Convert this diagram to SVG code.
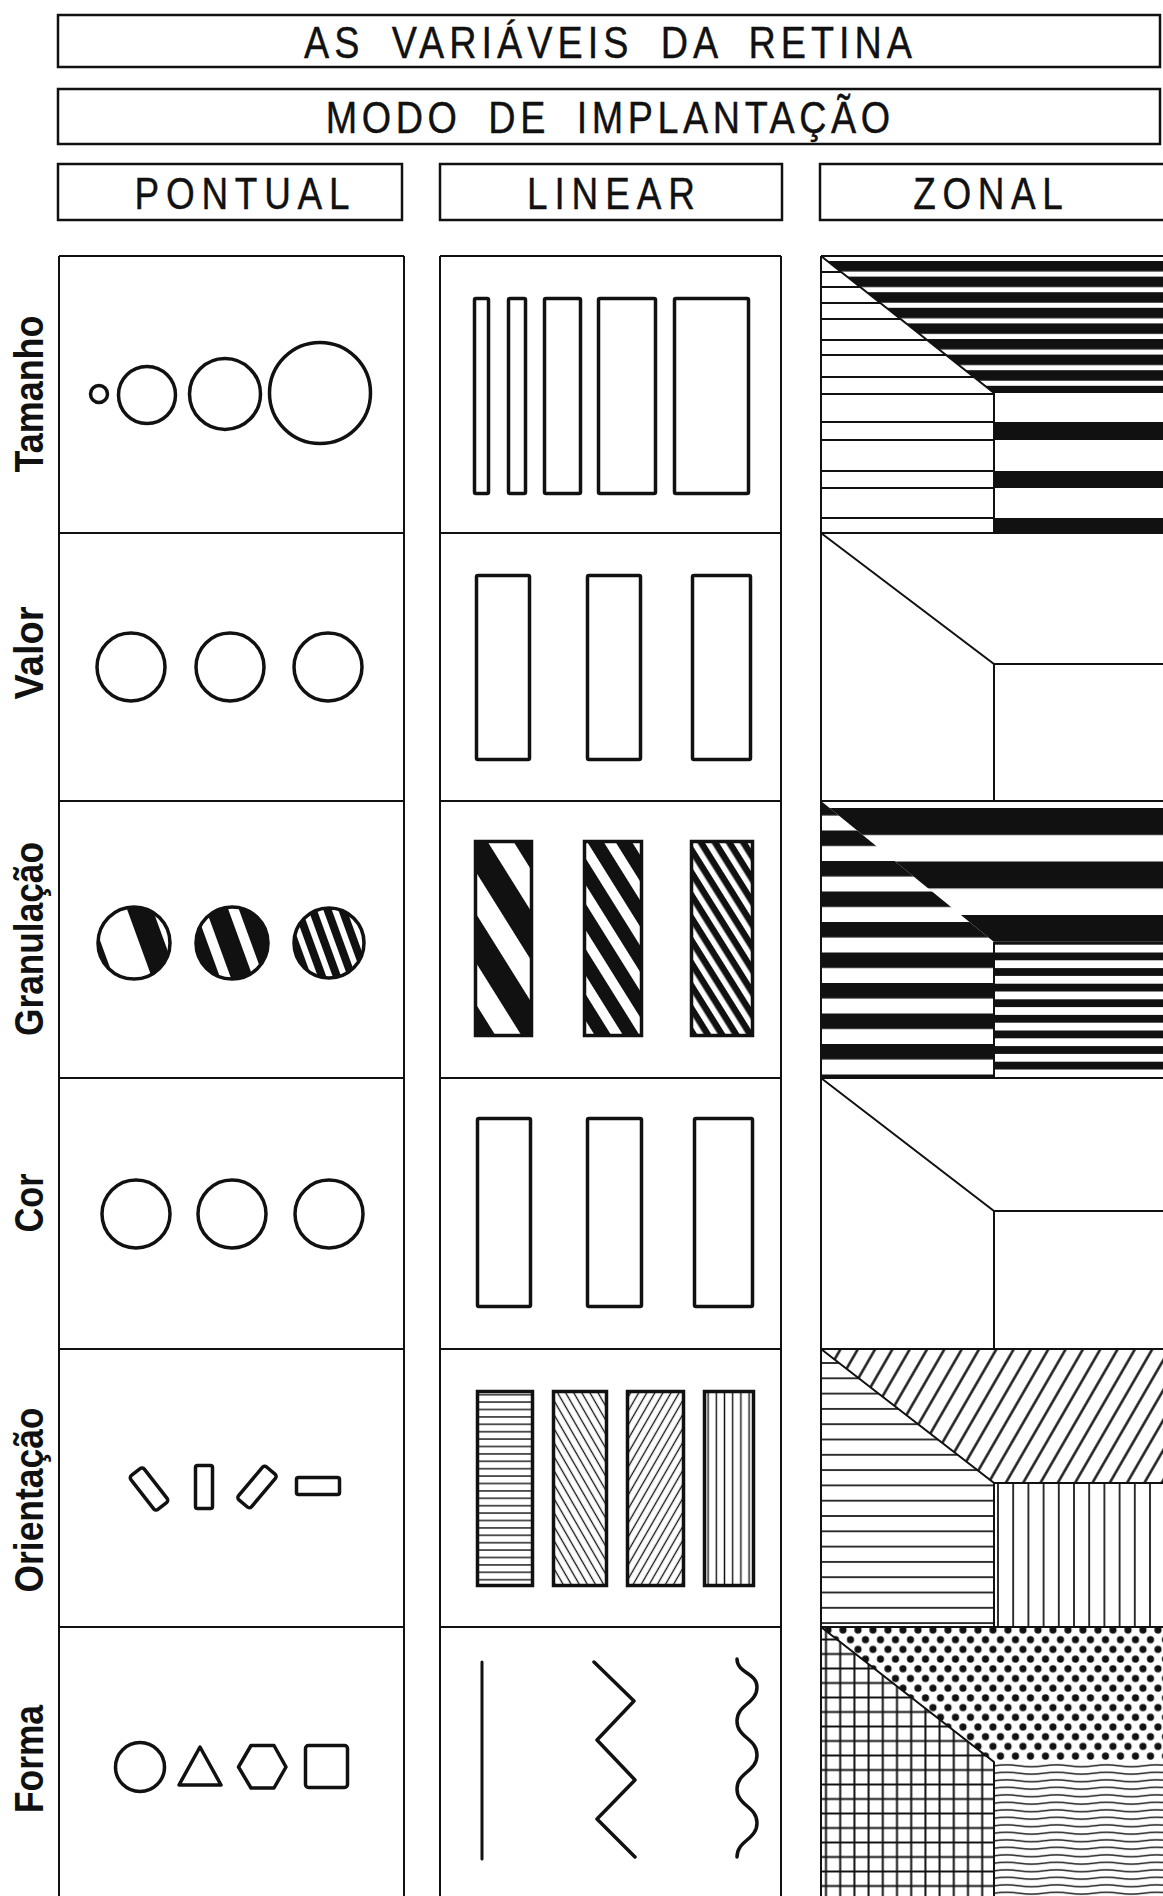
<svg xmlns="http://www.w3.org/2000/svg" width="1163" height="1896" viewBox="0 0 1163 1896">
<style>
.box{fill:none;stroke:#111;stroke-width:2.5}
.cl{fill:none;stroke:#111;stroke-width:2}
.ht{font-family:"Liberation Sans",Arial,sans-serif;fill:#111;stroke:#111;stroke-width:0.4;text-anchor:middle;word-spacing:14px}
.lbl{font-family:"Liberation Sans",Arial,sans-serif;font-weight:bold;font-size:40px;fill:#111;text-anchor:middle}
.sym{fill:none;stroke:#111;stroke-width:3.5;stroke-linejoin:round}
.symf{stroke:#111;stroke-width:3.5}
.thin{fill:none;stroke:#111;stroke-width:2}
</style>
<defs>
<pattern id="gc1" patternUnits="userSpaceOnUse" x="-31" y="0" width="60" height="10" patternTransform="translate(134,943) rotate(-20)"><rect width="60" height="10" fill="#111"/><rect width="36" height="10" fill="#fff"/></pattern>
<pattern id="gc2" patternUnits="userSpaceOnUse" x="-23" y="0" width="31" height="10" patternTransform="translate(232,943) rotate(-20)"><rect width="31" height="10" fill="#111"/><rect width="10" height="10" fill="#fff"/></pattern>
<pattern id="gc3" patternUnits="userSpaceOnUse" x="0" y="0" width="14" height="10" patternTransform="translate(329,943) rotate(-20)"><rect width="14" height="10" fill="#111"/><rect width="6" height="10" fill="#fff"/></pattern>
<pattern id="gl1" patternUnits="userSpaceOnUse" x="-10" y="0" width="48" height="10" patternTransform="translate(503,938) rotate(-32)"><rect width="48" height="10" fill="#111"/><rect width="22" height="10" fill="#fff"/></pattern>
<pattern id="gl2" patternUnits="userSpaceOnUse" x="-5" y="0" width="24" height="10" patternTransform="translate(613,938) rotate(-32)"><rect width="24" height="10" fill="#111"/><rect width="10" height="10" fill="#fff"/></pattern>
<pattern id="gl3" patternUnits="userSpaceOnUse" x="0" y="0" width="12" height="10" patternTransform="translate(722,938) rotate(-32)"><rect width="12" height="10" fill="#111"/><rect width="5.5" height="10" fill="#fff"/></pattern>
<pattern id="oh" patternUnits="userSpaceOnUse" x="0" y="1391" width="10" height="7.4"><rect width="10" height="7.4" fill="#fff"/><path d="M0,3.7H10" stroke="#111" stroke-width="1.4"/></pattern>
<pattern id="od1" patternUnits="userSpaceOnUse" x="0" y="0" width="7" height="10" patternTransform="rotate(-30)"><rect width="7" height="10" fill="#fff"/><path d="M3.5,0V10" stroke="#111" stroke-width="1.3"/></pattern>
<pattern id="od2" patternUnits="userSpaceOnUse" x="0" y="0" width="7" height="10" patternTransform="rotate(30)"><rect width="7" height="10" fill="#fff"/><path d="M3.5,0V10" stroke="#111" stroke-width="1.3"/></pattern>
<pattern id="ov" patternUnits="userSpaceOnUse" x="704" y="0" width="8.2" height="10"><rect width="8.2" height="10" fill="#fff"/><path d="M4.1,0V10" stroke="#111" stroke-width="1.4"/></pattern>
<pattern id="tb" patternUnits="userSpaceOnUse" x="0" y="261" width="10" height="15.6"><rect width="10" height="10.5" fill="#111"/></pattern>
<pattern id="gz1" patternUnits="userSpaceOnUse" x="0" y="808" width="10" height="53.5"><rect width="10" height="27" fill="#111"/></pattern>
<pattern id="gz2" patternUnits="userSpaceOnUse" x="0" y="800" width="10" height="30.5"><rect width="10" height="15.5" fill="#111"/></pattern>
<pattern id="gz3" patternUnits="userSpaceOnUse" x="0" y="944.7" width="10" height="15.6"><rect y="7.8" width="10" height="7.8" fill="#111"/></pattern>
<pattern id="ozd" patternUnits="userSpaceOnUse" x="0" y="0" width="15" height="20" patternTransform="rotate(30)"><path d="M7.5,0V20" stroke="#111" stroke-width="2.4"/></pattern>
<pattern id="ozh" patternUnits="userSpaceOnUse" x="0" y="1355.35" width="20" height="15.3"><path d="M0,7.65H20" stroke="#111" stroke-width="1.7"/></pattern>
<pattern id="ozv" patternUnits="userSpaceOnUse" x="990.4" y="0" width="15.2" height="20"><path d="M7.6,0V20" stroke="#111" stroke-width="1.7"/></pattern>
<pattern id="fd" patternUnits="userSpaceOnUse" x="884.25" y="1625.15" width="15" height="19.4"><circle cx="3.75" cy="4.85" r="3.6" fill="#111"/><circle cx="11.25" cy="14.55" r="3.6" fill="#111"/></pattern>
<pattern id="fg" patternUnits="userSpaceOnUse" x="818.9" y="1675.75" width="14.2" height="14.5"><path d="M7.1,0V14.5M0,7.25H14.2" stroke="#111" stroke-width="2"/></pattern>
<pattern id="fw" patternUnits="userSpaceOnUse" x="994" y="1762" width="50" height="7.5"><path d="M0,3.75Q12.5,1.8 25,3.75T50,3.75" fill="none" stroke="#111" stroke-width="1.3"/></pattern>
<clipPath id="tlf"><path d="M821,256L994,393V533H821Z"/></clipPath>
</defs>
<rect width="1163" height="1896" fill="#fff"/>

<g id="header-title">
<rect class="box" x="58" y="15" width="1102" height="52"/>
<text class="ht" transform="translate(608,58) scale(0.84,1)" font-size="45" textLength="724" lengthAdjust="spacing">AS VARIÁVEIS DA RETINA</text>
</g>
<g id="header-mode">
<rect class="box" x="58" y="89" width="1102" height="55"/>
<text class="ht" transform="translate(608,133) scale(0.84,1)" font-size="45" textLength="672" lengthAdjust="spacing">MODO DE IMPLANTAÇÃO</text>
</g>
<g id="header-pontual">
<rect class="box" x="58" y="164" width="344" height="56"/>
<text class="ht" transform="translate(242,209) scale(0.84,1)" font-size="44" textLength="256" lengthAdjust="spacing">PONTUAL</text>
</g>
<g id="header-linear">
<rect class="box" x="440" y="164" width="342" height="56"/>
<text class="ht" transform="translate(611,209) scale(0.84,1)" font-size="44" textLength="200" lengthAdjust="spacing">LINEAR</text>
</g>
<g id="header-zonal">
<rect class="box" x="820" y="164" width="345" height="56"/>
<text class="ht" transform="translate(988,209) scale(0.84,1)" font-size="44" textLength="178" lengthAdjust="spacing">ZONAL</text>
</g>

<g id="row-labels">
<text class="lbl" transform="translate(43,394) rotate(-90)" textLength="157" lengthAdjust="spacingAndGlyphs">Tamanho</text>
<text class="lbl" transform="translate(43,653) rotate(-90)" textLength="93" lengthAdjust="spacingAndGlyphs">Valor</text>
<text class="lbl" transform="translate(43,939) rotate(-90)" textLength="194" lengthAdjust="spacingAndGlyphs">Granulação</text>
<text class="lbl" transform="translate(43,1203) rotate(-90)" textLength="59" lengthAdjust="spacingAndGlyphs">Cor</text>
<text class="lbl" transform="translate(43,1500) rotate(-90)" textLength="185" lengthAdjust="spacingAndGlyphs">Orientação</text>
<text class="lbl" transform="translate(43,1759) rotate(-90)" textLength="108" lengthAdjust="spacingAndGlyphs">Forma</text>
</g>

<g id="grid">
<path class="cl" d="M59,256V1896M404,256V1896M59,256H404M59,533H404M59,801H404M59,1078H404M59,1349H404M59,1627H404"/>
<path class="cl" d="M440,256V1896M781,256V1896M440,256H781M440,533H781M440,801H781M440,1078H781M440,1349H781M440,1627H781"/>
<path class="cl" d="M821,256V1896M821,256H1163M821,533H1163M821,801H1163M821,1078H1163M821,1349H1163M821,1627H1163"/>
</g>

<g id="tamanho-pontual">
<circle class="sym" cx="99" cy="394" r="8.5"/>
<circle class="sym" cx="147" cy="395" r="28.5"/>
<circle class="sym" cx="225" cy="394" r="35.5"/>
<circle class="sym" cx="320" cy="393" r="50.5"/>
</g>
<g id="tamanho-linear">
<rect class="sym" x="474.5" y="298.5" width="14" height="195" rx="1.5"/>
<rect class="sym" x="508.5" y="298.5" width="17" height="195" rx="1.5"/>
<rect class="sym" x="544.5" y="298.5" width="36" height="195" rx="1.5"/>
<rect class="sym" x="598.5" y="298.5" width="57" height="195" rx="1.5"/>
<rect class="sym" x="674.5" y="298.5" width="74" height="195" rx="1.5"/>
</g>
<g id="tamanho-zonal">
<path d="M821,256H1163V393H994Z" fill="url(#tb)"/>
<path d="M994,422H1163V440H994ZM994,471H1163V488H994ZM994,518H1163V533H994Z" fill="#111"/>
<path clip-path="url(#tlf)" class="thin" d="M821,272H994M821,287H994M821,303H994M821,319H994M821,340H994M821,355H994M821,377H994M821,394H994M821,422H994M821,440H994M821,471H994M821,488H994M821,518H994"/>
<path class="thin" d="M821,256L994,393V533"/>
</g>

<g id="valor-pontual">
<circle class="sym" cx="131" cy="667" r="34"/>
<circle class="sym" cx="230" cy="667" r="34"/>
<circle class="sym" cx="328" cy="667" r="34"/>
</g>
<g id="valor-linear">
<rect class="sym" x="476.5" y="575.5" width="53" height="184" rx="1.5"/>
<rect class="sym" x="587.5" y="575.5" width="53" height="184" rx="1.5"/>
<rect class="sym" x="692.5" y="575.5" width="58" height="184" rx="1.5"/>
</g>
<g id="valor-zonal">
<path class="thin" d="M821,533L994,664H1163M994,664V801"/>
</g>

<g id="granulacao-pontual">
<circle class="symf" cx="134" cy="943" r="36" fill="url(#gc1)"/>
<circle class="symf" cx="232" cy="943" r="36" fill="url(#gc2)"/>
<circle class="symf" cx="329" cy="943" r="35" fill="url(#gc3)"/>
</g>
<g id="granulacao-linear">
<rect class="symf" x="475.5" y="841.5" width="56" height="194" fill="url(#gl1)"/>
<rect class="symf" x="584.5" y="841.5" width="57" height="194" fill="url(#gl2)"/>
<rect class="symf" x="691.5" y="841.5" width="61" height="194" fill="url(#gl3)"/>
</g>
<g id="granulacao-zonal">
<path d="M821,801H1163V942H994Z" fill="url(#gz1)"/>
<path d="M821,801L994,942V1078H821Z" fill="url(#gz2)"/>
<path d="M994,942H1163V1078H994Z" fill="url(#gz3)"/>
<path class="thin" d="M994,942V1078" stroke-width="1.5"/>
</g>

<g id="cor-pontual">
<circle class="sym" cx="136" cy="1214" r="34"/>
<circle class="sym" cx="232" cy="1214" r="34"/>
<circle class="sym" cx="329" cy="1214" r="34"/>
</g>
<g id="cor-linear">
<rect class="sym" x="477.5" y="1118.5" width="53" height="188" rx="1.5"/>
<rect class="sym" x="587.5" y="1118.5" width="54" height="188" rx="1.5"/>
<rect class="sym" x="694.5" y="1118.5" width="58" height="188" rx="1.5"/>
</g>
<g id="cor-zonal">
<path class="thin" d="M821,1078L994,1211H1163M994,1211V1349"/>
</g>

<g id="orientacao-pontual">
<rect class="sym" x="-8.5" y="-21.5" width="17" height="43" rx="3" transform="translate(149,1489) rotate(-38)"/>
<rect class="sym" x="-8.5" y="-21.5" width="17" height="43" rx="2" transform="translate(204,1487)"/>
<rect class="sym" x="-8.5" y="-21.5" width="17" height="43" rx="3" transform="translate(257,1487) rotate(40)"/>
<rect class="sym" x="-8.5" y="-21.5" width="17" height="43" rx="2" transform="translate(318,1486) rotate(90)"/>
</g>
<g id="orientacao-linear">
<rect class="symf" x="477.5" y="1391.5" width="55" height="194" fill="url(#oh)"/>
<rect class="symf" x="553.5" y="1391.5" width="53" height="194" fill="url(#od1)"/>
<rect class="symf" x="627.5" y="1391.5" width="56" height="194" fill="url(#od2)"/>
<rect class="symf" x="704.5" y="1391.5" width="49" height="194" fill="url(#ov)"/>
</g>
<g id="orientacao-zonal">
<path d="M821,1349H1163V1483H994Z" fill="url(#ozd)"/>
<path d="M821,1349L994,1483V1627H821Z" fill="url(#ozh)"/>
<path d="M994,1483H1163V1627H994Z" fill="url(#ozv)"/>
<path class="thin" d="M821,1349L994,1483V1627M994,1483H1163" stroke-width="2.5"/>
</g>

<g id="forma-pontual">
<circle class="sym" cx="140" cy="1767" r="24.5"/>
<path class="sym" d="M200,1747L221,1785H179Z"/>
<path class="sym" d="M251,1745.5H274L286,1767L274,1788H251L238.5,1767Z"/>
<rect class="sym" x="305.5" y="1745.5" width="42" height="42" rx="3"/>
</g>
<g id="forma-linear">
<path d="M482,1662V1859" fill="none" stroke="#111" stroke-width="3" stroke-linecap="round"/>
<path class="sym" d="M594,1662L634,1701L597,1740L635,1780L597,1819L635,1857" stroke-linecap="round"/>
<path class="sym" stroke-width="4" stroke-linecap="round" d="M737,1659C737,1673 757,1673 757,1687C757,1704 737,1704 737,1721C737,1738 757,1738 757,1755C757,1772 737,1772 737,1789C737,1806 757,1806 757,1823C757,1840 737,1840 737,1857"/>
</g>
<g id="forma-zonal">
<path d="M821,1627H1163V1762H994Z" fill="url(#fd)"/>
<path d="M821,1627L994,1762V1896H821Z" fill="url(#fg)"/>
<path d="M994,1762H1163V1896H994Z" fill="url(#fw)"/>
<path class="thin" d="M821,1627L994,1762V1896" stroke-width="2.5"/>
</g>
</svg>
